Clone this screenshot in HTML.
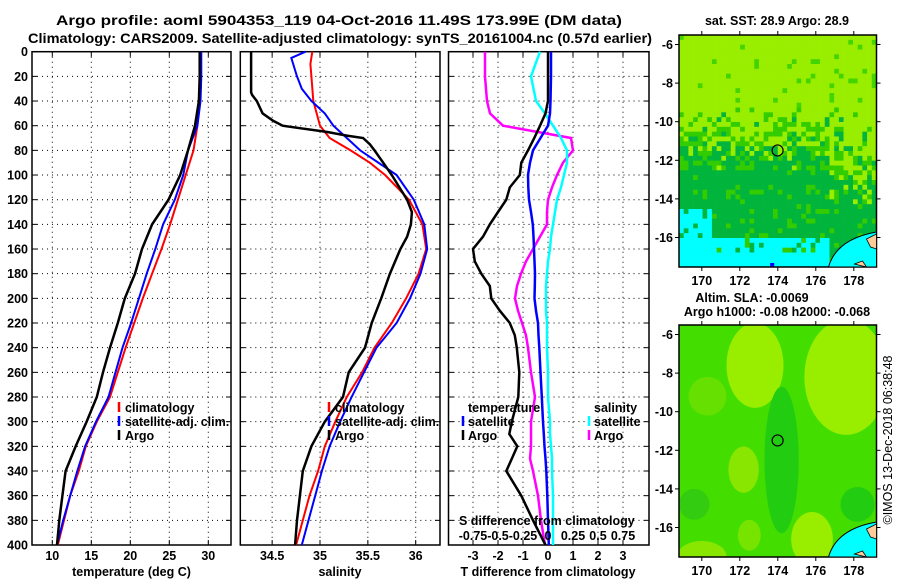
<!DOCTYPE html>
<html><head><meta charset="utf-8">
<style>
html,body{margin:0;padding:0;background:#fff;}
svg{display:block;font-family:"Liberation Sans",Arial,sans-serif;font-weight:bold;}
</style></head>
<body>
<svg id="fig" width="900" height="580" viewBox="0 0 900 580" xmlns="http://www.w3.org/2000/svg">
<rect width="900" height="580" fill="#fff"/>
<text x="56" y="25" font-size="14" textLength="566" lengthAdjust="spacingAndGlyphs">Argo profile: aoml 5904353_119 04-Oct-2016 11.49S 173.99E (DM data)</text>
<text x="28" y="43" font-size="14" textLength="624" lengthAdjust="spacingAndGlyphs">Climatology: CARS2009. Satellite-adjusted climatology: synTS_20161004.nc (0.57d earlier)</text>
<g id="plots"></g>
<g id="maps"></g>
</svg>
<script>
// ---------- data ----------
const depthTicks = [0,20,40,60,80,100,120,140,160,180,200,220,240,260,280,300,320,340,360,380,400];
const tempTicks = [10,15,20,25,30];
const salTicks = [34.5,35,35.5,36];
const salTickLabels = ["34.5","35","35.5","36"];
const tdiffTicks = [-3,-2,-1,0,1,2,3];
const sdiffTicks = [-0.75,-0.5,-0.25,0,0.25,0.5,0.75];
const sdiffTickLabels = ["-0.75","-0.5","-0.25","0","0.25","0.5","0.75"];

const tempDepth = [0,20,40,60,80,100,120,140,160,180,200,220,240,260,280,300,320,340,360,380,400];
const tempClim = [28.9,28.9,28.8,28.6,28.1,27.1,26.1,25.1,24.0,22.8,21.6,20.5,19.4,18.4,17.4,15.7,14.3,13.4,12.3,11.5,10.7];
const tempSat  = [29.1,29.1,29.0,28.6,27.4,26.8,25.7,24.2,23.2,22.1,21.1,20.1,19.0,18.1,17.2,15.6,14.2,13.2,12.3,11.4,10.6];
const tempArgo = [28.9,28.9,28.8,28.3,27.4,26.4,24.9,22.8,21.5,20.6,19.3,18.4,17.4,16.5,15.7,14.4,13.0,11.7,11.3,10.9,10.6];

const salClimDepth = [0,10,20,40,60,70,80,90,100,120,140,160,180,200,220,240,260,280,300,320,340,360,380,400];
const salClim = [34.92,34.90,34.91,34.93,35.0,35.1,35.32,35.52,35.68,35.93,36.07,36.11,36.03,35.9,35.75,35.57,35.44,35.28,35.16,35.05,34.98,34.89,34.82,34.75];
const salSatDepth = [0,5,20,30,40,50,60,70,80,100,120,140,160,180,200,220,240,260,280,300,320,340,360,380,400];
const salSat = [34.85,34.70,34.76,34.81,34.91,35.05,35.14,35.28,35.42,35.8,35.98,36.09,36.12,36.05,35.94,35.8,35.59,35.46,35.33,35.21,35.1,35.02,34.95,34.88,34.81];
const salArgoDepth = [0,33,35,40,50,56,60,62,65,68,70,75,80,90,100,110,120,130,140,150,160,180,200,220,240,260,280,300,320,340,360,380,400];
const salArgo = [34.28,34.28,34.29,34.34,34.4,34.51,34.61,34.79,35.07,35.28,35.45,35.52,35.57,35.66,35.75,35.83,35.91,35.96,35.95,35.91,35.84,35.73,35.64,35.54,35.47,35.3,35.24,35.05,34.91,34.82,34.79,34.76,34.74];

const diffDepth = [0,20,40,50,60,70,80,90,100,110,120,130,140,150,160,170,180,190,200,210,220,230,240,260,280,300,310,320,330,340,360,380,400];
const satTdiff  = [0.12,0.12,0.1,0.08,0,-0.3,-0.6,-0.72,-0.8,-0.79,-0.76,-0.68,-0.61,-0.58,-0.56,-0.54,-0.52,-0.53,-0.54,-0.48,-0.4,-0.38,-0.35,-0.3,-0.25,-0.2,-0.17,-0.14,-0.1,-0.07,-0.03,0,0.03];
const argoTdiff = [0,0,0,-0.1,-0.32,-0.55,-0.8,-1.07,-1.13,-1.53,-1.67,-2.0,-2.33,-2.6,-3.0,-2.93,-2.67,-2.33,-2.27,-1.93,-1.53,-1.33,-1.25,-1.15,-1.19,-1.45,-1.55,-1.23,-1.45,-1.67,-1.07,-0.6,-0.1];
const satSdiff  = [-0.08,-0.17,-0.12,-0.03,0.05,0.13,0.19,0.19,0.16,0.13,0.09,0.07,0.05,0.03,0.02,0,-0.01,-0.02,-0.02,-0.02,-0.01,-0.01,-0.01,0,0,0.02,0.02,0.03,0.04,0.04,0.05,0.05,0.05];
const argoSdiff = [-0.63,-0.63,-0.61,-0.58,-0.45,0.23,0.25,0.15,0.09,0.04,0,-0.01,-0.01,-0.08,-0.15,-0.22,-0.27,-0.31,-0.33,-0.3,-0.26,-0.22,-0.2,-0.17,-0.13,-0.17,-0.17,-0.17,-0.18,-0.15,-0.1,-0.07,-0.03];

const lonTicks = [170,172,174,176,178];
const latTicks = [-6,-8,-10,-12,-14,-16];
const argoLon = 173.99, argoLat = -11.49;

// ---------- helpers ----------
const NS="http://www.w3.org/2000/svg";
function mk(parent, tag, attrs, text){
  const e=document.createElementNS(NS,tag);
  for(const k in attrs) e.setAttribute(k,attrs[k]);
  if(text!==undefined) e.textContent=text;
  parent.appendChild(e); return e;
}
const plots=document.getElementById('plots');
const TOP=51.7, BOT=545;
const yD = d => TOP + d*(BOT-TOP)/400;

function panel(name){
  const g=mk(plots,'g',{});
  
  
  return g;
}
function grid(g,x0,x1,xs){
  depthTicks.forEach(d=>{
    const y=yD(d);
    if(d>0&&d<400){const l=mk(g,'line',{x1:x0,x2:x1,y1:y,y2:y,stroke:'#000','stroke-width':1,'stroke-dasharray':'1,4'});
    
    }
    mk(g,'line',{x1:x0,x2:x0+5,y1:y,y2:y,stroke:'#000','stroke-width':1});
    mk(g,'line',{x1:x1-5,x2:x1,y1:y,y2:y,stroke:'#000','stroke-width':1});
  });
  xs.forEach(x=>{
    const l=mk(g,'line',{x1:x,x2:x,y1:TOP,y2:BOT,stroke:'#000','stroke-width':1,'stroke-dasharray':'1,4'});
    
    
    mk(g,'line',{x1:x,x2:x,y1:TOP,y2:TOP+5,stroke:'#000'});
    mk(g,'line',{x1:x,x2:x,y1:BOT-5,y2:BOT,stroke:'#000'});
  });
  const r=mk(g,'rect',{x:x0,y:TOP,width:x1-x0,height:BOT-TOP,fill:'none',stroke:'#000','stroke-width':1.5});
  
  
}
function line(g,name,depths,vals,xf,color,w){
  const pts=depths.map((d,i)=>xf(vals[i]).toFixed(1)+','+yD(d).toFixed(1)).join(' ');
  const p=mk(g,'polyline',{points:pts,fill:'none',stroke:color,'stroke-width':w,'stroke-linejoin':'miter'});
  
  
}
function txt(g,name,x,y,s,size,anchor,extra){
  const a=Object.assign({x:x,y:y,'font-size':size||12,'text-anchor':anchor||'start'},extra||{});
  const t=mk(g,'text',a,s);
  
  
  return t;
}
function legendMark(g,x,y,color){
  mk(g,'line',{x1:x,x2:x,y1:y-10,y2:y,stroke:color,'stroke-width':2.5});
}

// ---------- panel 1: temperature ----------
{
  const x0=32,x1=231; const xT=t=>52.3+(t-10)*7.8;
  const g=panel('temperature-panel');
  grid(g,x0,x1,tempTicks.map(xT));
  depthTicks.forEach(d=>txt(g,'y-tick-label',28,yD(d)+4.5,String(d),12.5,'end'));
  tempTicks.forEach(t=>txt(g,'x-tick-label',xT(t),560,String(t),12.5,'middle'));
  txt(g,'x-axis-title',131.5,576,'temperature (deg C)',12.5,'middle');
  line(g,'climatology-line',tempDepth,tempClim,xT,'#ff0000',2);
  line(g,'satellite-line',tempDepth,tempSat,xT,'#0000ff',2);
  line(g,'argo-line',tempDepth,tempArgo,xT,'#000',2.5);
  legendMark(g,119,412,'#f00'); txt(g,'legend-climatology',125,412,'climatology',12.5);
  legendMark(g,119,426,'#00f'); txt(g,'legend-satellite',125,426,'satellite-adj. clim.',12.5);
  legendMark(g,119,440,'#000'); txt(g,'legend-argo',125,440,'Argo',12.5);
}
// ---------- panel 2: salinity ----------
{
  const x0=240.3,x1=440; const xS=s=>320+(s-35)*95.7;
  const g=panel('salinity-panel');
  grid(g,x0,x1,salTicks.map(xS));
  salTicks.forEach((s,i)=>txt(g,'x-tick-label',xS(s),560,salTickLabels[i],12.5,'middle'));
  txt(g,'x-axis-title',340,576,'salinity',12.5,'middle');
  line(g,'climatology-line',salClimDepth,salClim,xS,'#ff0000',2);
  line(g,'satellite-line',salSatDepth,salSat,xS,'#0000ff',2);
  line(g,'argo-line',salArgoDepth,salArgo,xS,'#000',2.5);
  legendMark(g,329,412,'#f00'); txt(g,'legend-climatology',335,412,'climatology',12.5);
  legendMark(g,329,426,'#00f'); txt(g,'legend-satellite',335,426,'satellite-adj. clim.',12.5);
  legendMark(g,329,440,'#000'); txt(g,'legend-argo',335,440,'Argo',12.5);
}
// ---------- panel 3: differences ----------
{
  const x0=448.5,x1=649; const xT=t=>548+t*25; const xS=s=>548+s*100;
  const g=panel('difference-panel');
  grid(g,x0,x1,tdiffTicks.map(xT));
  tdiffTicks.forEach(t=>txt(g,'t-diff-tick-label',xT(t),560,String(t),12.5,'middle'));
  txt(g,'x-axis-title',548,576,'T difference from climatology',12.5,'middle');
  line(g,'argo-s-diff-line',diffDepth,argoSdiff,xS,'#ff00ff',2.5);
  line(g,'satellite-s-diff-line',diffDepth,satSdiff,xS,'#00ffff',2.5);
  line(g,'argo-t-diff-line',diffDepth,argoTdiff,xT,'#000',2.5);
  line(g,'satellite-t-diff-line',diffDepth,satTdiff,xT,'#0000ff',2.5);
  txt(g,'legend-temperature-heading',468,412,'temperature',12.5);
  legendMark(g,463,426,'#00f'); txt(g,'legend-t-satellite',468,426,'satellite',12.5);
  legendMark(g,463,440,'#000'); txt(g,'legend-t-argo',468,440,'Argo',12.5);
  txt(g,'legend-salinity-heading',594,412,'salinity',12.5);
  legendMark(g,589,426,'#0ff'); txt(g,'legend-s-satellite',594,426,'satellite',12.5);
  legendMark(g,589,440,'#f0f'); txt(g,'legend-s-argo',594,440,'Argo',12.5);
  txt(g,'s-diff-axis-title',459,525,'S difference from climatology',12.5,'start');
  sdiffTicks.forEach((s,i)=>txt(g,'s-diff-tick-label',xS(s),540,sdiffTickLabels[i],12.5,'middle'));
}

// ---------- maps ----------
const maps=document.getElementById('maps');
function hash(i,j,k){let h=(i*374761393+j*668265263+k*2147483647)>>>0;h=(h^(h>>>13))*1274126177>>>0;return ((h^(h>>>16))>>>0)/4294967295;}
function mapFrame(name,top){
  const L=679,R=876.5,B=top+232;
  const xL=lon=>L+(lon-168.8)*19.0;
  const yL=lat=>top+9.5+(-6-lat)*19.3;
  const g=mk(maps,'g',{});
  
  
  return {g,L,R,top,B,xL,yL};
}
function mapAxes(m){
  const {g,L,R,top,B,xL,yL}=m;
  mk(g,'rect',{x:L,y:top,width:R-L,height:B-top,fill:'none',stroke:'#000','stroke-width':1.5});
  lonTicks.forEach(l=>{const x=xL(l);
    mk(g,'line',{x1:x,x2:x,y1:top-4,y2:top,stroke:'#000'});
    mk(g,'line',{x1:x,x2:x,y1:B,y2:B+4,stroke:'#000'});
    txt(g,'lon-tick-label',x,B+18,String(l),12.5,'middle');});
  latTicks.forEach(l=>{const y=yL(l);
    mk(g,'line',{x1:L-4,x2:L,y1:y,y2:y,stroke:'#000'});
    mk(g,'line',{x1:R,x2:R+4,y1:y,y2:y,stroke:'#000'});
    txt(g,'lat-tick-label',L-6,y+4.5,String(l),12.5,'end');});
  const c=mk(g,'circle',{cx:xL(argoLon),cy:yL(argoLat),r:5.5,fill:'none',stroke:'#000','stroke-width':1.2});
  
  
  const cg=mk(g,'g',{});
  mk(cg,'path',{d:`M${R-48},${B} Q${R-40},${B-28} ${R},${B-35} L${R},${B} Z`,fill:'#00ffff',stroke:'#000','stroke-width':1});
  mk(cg,'path',{d:`M${R-10},${B-28} L${R},${B-33} L${R},${B-18} L${R-6},${B-20} Z`,fill:'#ffcc99',stroke:'#000','stroke-width':0.8});
  mk(cg,'path',{d:`M${R-22},${B-3} L${R-14},${B-6} L${R-10},${B} Z`,fill:'#ffcc99',stroke:'#000','stroke-width':0.8});
}
// Map 1: SST
{
  const m=mapFrame('sst-map',35);
  const {g,L,R,top,B}=m;
  const cw=(R-L)/42, ch=(B-top)/48;
  for(let j=0;j<48;j++){for(let i=0;i<42;i++){
    const x=L+i*cw,y=top+j*ch,h=hash(i,j,1);
    const lat=-5.5-(j+0.5)*0.25, lon=168.8+(i+0.5)*cw/19;
    let c='#99ee00';
    let bnd = (lon>176.6)? -13 : -11.3;
    if(lat>-9.3){ if(h<0.03+(lon>175?0.06:0)) c='#44d400'; }
    else if(lat>bnd){ const p=(-9.3-lat)/(-9.3-bnd); c = h<0.15+0.55*p ? (h<0.2*p?'#00b43c':'#33cc00') : '#99ee00'; }
    else if(lat>bnd-1.2){ c = h<0.55?'#00b43c':(h<0.85?'#33cc00':'#99ee00'); }
    else { c = h<0.88?'#00b43c':'#33cc00'; }
    if((lat<-14.4 && lon<170.5) || (lat<-16 && lon<176.6 && h<0.75) || (lat<-16.8 && lon<176.6)) c='#00ffff';
    if(lat<-14.4 && lat>-16 && lon<170.5 && h<0.2) c='#00b43c';
    mk(g,'rect',{x:x.toFixed(2),y:y.toFixed(2),width:(cw+0.3).toFixed(2),height:(ch+0.3).toFixed(2),fill:c});
  }}
  mk(g,'rect',{x:m.xL(173.6),y:B-4,width:4,height:4,fill:'#0000ff'});
  mapAxes(m);
  txt(g,'sst-map-title',777,25,'sat. SST: 28.9 Argo: 28.9',12.5,'middle');
}
// Map 2: SLA
{
  const m=mapFrame('sla-map',325);
  const {g,L,R,top,B,xL,yL}=m;
  const cp=mk(g,'clipPath',{id:'c2'}); mk(cp,'rect',{x:L,y:top,width:R-L,height:B-top});
  const gg=mk(g,'g',{'clip-path':'url(#c2)'});
  mk(gg,'rect',{x:L,y:top,width:R-L,height:B-top,fill:'#44dd00'});
  const blobs=[[172.8,-7.6,1.5,2.2,'#99ee00'],[177.6,-8.2,2.2,3.0,'#99ee00'],[175.8,-16.6,1.1,1.4,'#99ee00'],[172.2,-13.0,0.8,1.2,'#88e600'],[170,-17.5,1.3,0.8,'#88e600'],[170.3,-9.2,1.0,1.0,'#66e000'],[174.2,-12.5,0.9,3.8,'#22cc11'],[178.2,-14.8,0.9,0.9,'#22cc11'],[169.6,-14.8,0.8,0.8,'#33cc11'],[172.5,-16.4,0.6,0.8,'#77e400']];
  blobs.forEach(b=>mk(gg,'ellipse',{cx:xL(b[0]),cy:yL(b[1]),rx:b[2]*19,ry:b[3]*19.3,fill:b[4]}));
  mapAxes(m);
  txt(g,'sla-map-title',752,302,'Altim. SLA: -0.0069',12.5,'middle');
  txt(g,'argo-height-label',777,316,'Argo h1000: -0.08 h2000: -0.068',12.5,'middle');
}
{
  txt(maps,'copyright-timestamp',0,0,'©IMOS 13-Dec-2018 06:38:48',12.5,'middle',{transform:'translate(892,440) rotate(-90)','font-weight':'normal'});
}
</script>
</body></html>
